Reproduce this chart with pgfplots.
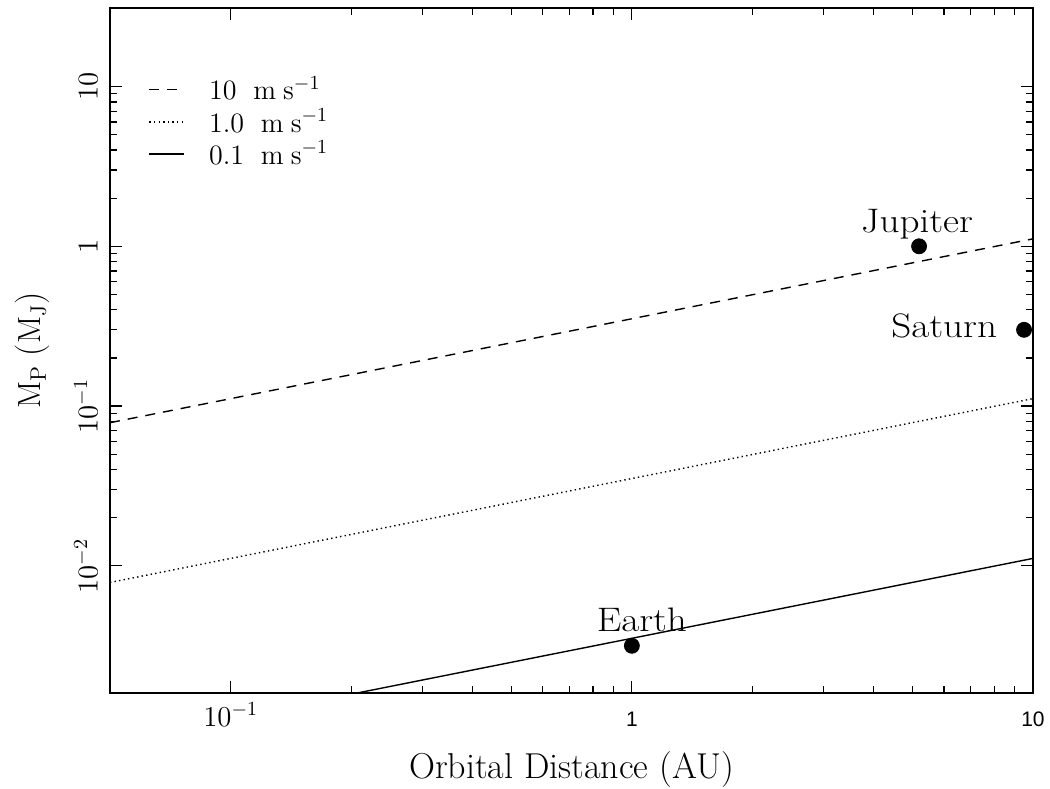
\documentclass[border=0pt]{standalone}
\usepackage{pgfplots}
\pgfplotsset{compat=1.18}
\usepackage{fontspec}
\newfontfamily\sfx{Liberation Sans}
\newfontfamily\wide{Latin Modern Roman}[FakeStretch=1.15]
\begin{document}
\begin{tikzpicture}
\begin{axis}[name=ax, xmode=log, ymode=log, scale only axis,
  width=461.5pt, height=342.5pt,
  xmin=0.05, xmax=10, ymin=0.0016, ymax=31,
  axis line style={line width=1pt},
  major tick length=6pt, minor tick length=3.5pt,
  every tick/.style={black, line width=0.6pt},
  xtick={0.1,1,10},
  xticklabels={$10^{-1}$,{\sfx\fontsize{10.5}{12}\selectfont 1},{\sfx\fontsize{10.5}{12}\selectfont 10}},
  xticklabel style={font=\fontsize{14}{16}\selectfont, anchor=base, yshift=-16.5pt},
  ytick={0.01,0.1,1,10}, yticklabels={$10^{-2}$,$10^{-1}$,$1$,$10$},
  yticklabel style={rotate=90, anchor=south, inner sep=6pt, font=\fontsize{14}{16}\selectfont},
  xlabel={Orbital Distance (AU)},
  xlabel style={font=\fontsize{18}{20}\selectfont, at={(axis description cs:0.5,-0.1241)}, anchor=base},
  ylabel={$\mathrm{M_P\ (M_J)}$},
  ylabel style={font=\fontsize{16}{18}\selectfont, at={(axis description cs:-0.0845,0.5)}, anchor=center},
  legend image code/.code={\draw[#1] (0pt,0pt) -- (17.5pt,0pt);},
  legend style={at={(axis description cs:0.035,0.9125)}, anchor=north west, draw=none, fill=none,
    font=\fontsize{14}{15}\selectfont, row sep=-1pt, column sep=0pt, cells={anchor=west}},
]
\addplot[black, line width=0.7pt, dash pattern=on 5pt off 4pt] coordinates {(0.05,0.0787) (10,1.113)};
\addlegendentry{\hspace{10pt}10\hspace{0.6em}m\hspace{0.25em}s$^{-1}$}
\addplot[black, line width=0.7pt, dash pattern=on 0.7pt off 1.6pt] coordinates {(0.05,0.00787) (10,0.1113)};
\addlegendentry{\hspace{10pt}1.0\hspace{0.6em}m\hspace{0.25em}s$^{-1}$}
\addplot[black, line width=0.7pt] coordinates {(0.05,0.000787) (10,0.01113)};
\addlegendentry{\hspace{10pt}0.1\hspace{0.6em}m\hspace{0.25em}s$^{-1}$}
\addplot[only marks, mark=*, mark size=3.75pt, black, forget plot, clip mode=individual] coordinates {(5.2,1) (9.5,0.3) (1,0.00316)};
\node[font=\wide\fontsize{17}{19}\selectfont, anchor=base] at (axis cs:5.2,1) [yshift=7pt, xshift=-1pt] {Jupiter};
\node[font=\wide\fontsize{17}{19}\selectfont, anchor=base east] at (axis cs:9.5,0.3) [xshift=-10pt, yshift=-4pt] {Saturn};
\node[font=\wide\fontsize{17}{19}\selectfont, anchor=base] at (axis cs:1,0.00316) [xshift=5pt, yshift=7pt] {Earth};
\end{axis}
\pgfresetboundingbox
\path[use as bounding box] ([shift={(-55pt,-47.5pt)}]ax.south west) rectangle ([shift={(8.5pt,4pt)}]ax.north east);
\end{tikzpicture}
\end{document}
